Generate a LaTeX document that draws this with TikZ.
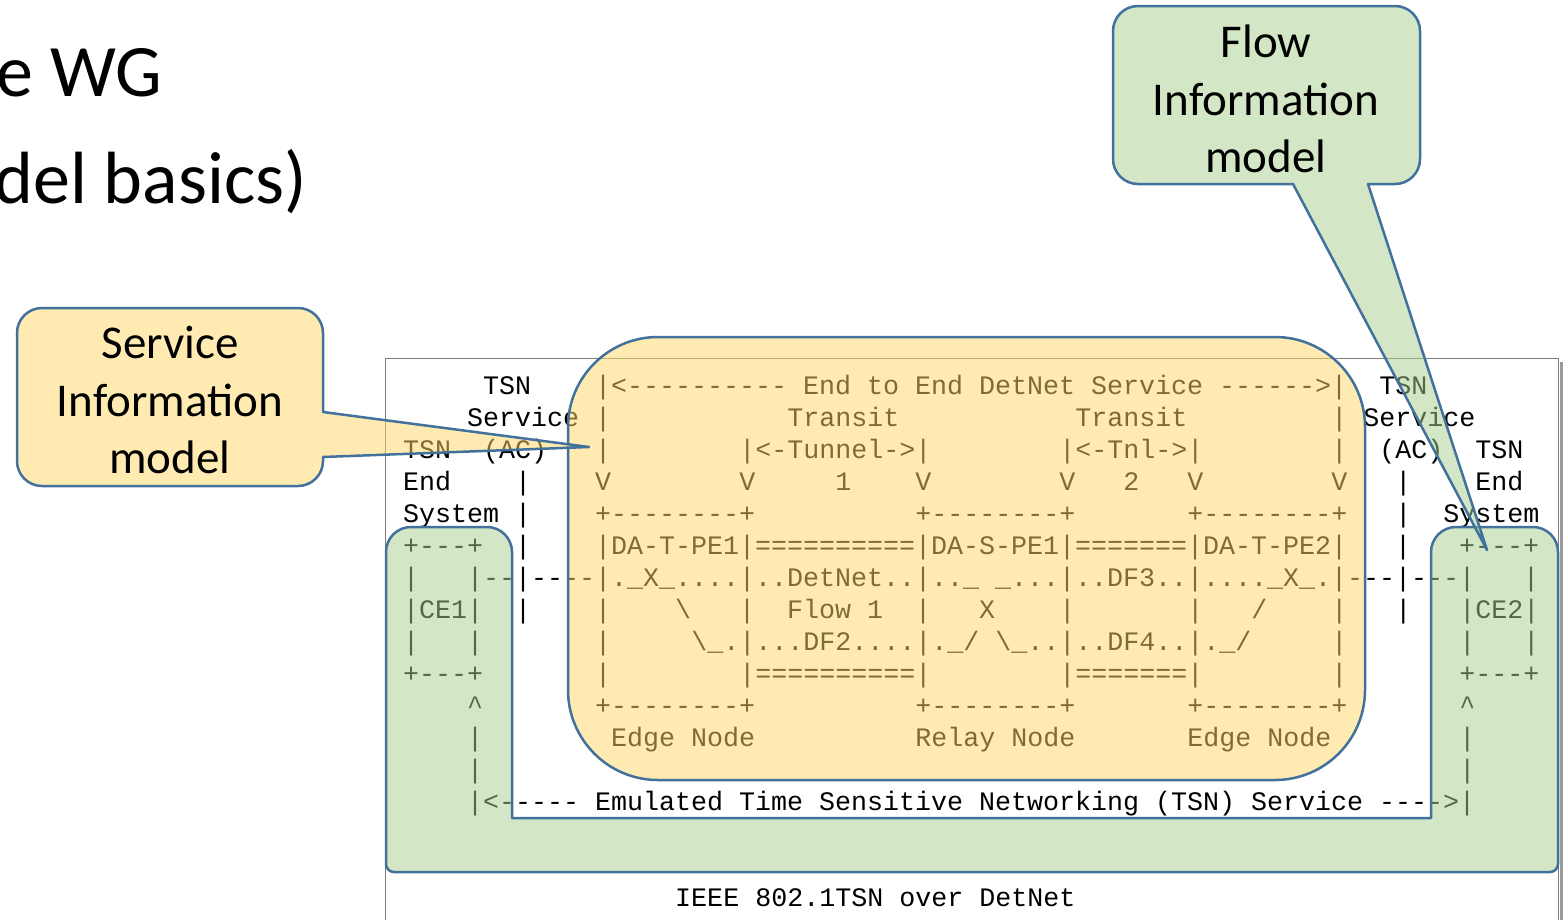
\documentclass[tikz,border=0pt]{standalone}
\usepackage{fontspec}
\setmainfont{Carlito}
\setmonofont{Liberation Mono}
\definecolor{bluel}{HTML}{41719C}
\definecolor{goldf}{HTML}{FFD966}
\definecolor{greenf}{HTML}{A9D18E}
\definecolor{boxc}{HTML}{7F7F7F}
\definecolor{shadc}{HTML}{9A9A9A}
\newlength\cw
\setlength\cw{16.0026pt}
\newcommand\sk[1]{\hspace*{#1\cw}}
\tikzset{
  outl/.style={draw=bluel, line width=2.5pt, line join=round},
  ylw/.style={outl, fill=goldf, fill opacity=0.5},
  grn/.style={outl, fill=greenf, fill opacity=0.5},
  asc/.style={anchor=base west, inner sep=0pt, font=\fontsize{26.667pt}{32pt}\selectfont\ttfamily\frenchspacing},
  cal/.style={anchor=base, inner sep=0pt, font=\fontsize{47pt}{57pt}\selectfont},
  ttl/.style={anchor=base east, inner sep=0pt, font=\fontsize{74pt}{88pt}\selectfont},
}
\begin{document}
\begin{tikzpicture}[x=1pt,y=-1pt]
\useasboundingbox (0,0) rectangle (1566,919);
\clip (0,0) rectangle (1566,919);
\fill[white] (0,0) rectangle (1566,919);
% title fragments
\node[ttl] (t1) at (162,96) {e WG};
\node[ttl] (t2) at (307,203) {del basics)};
% framed figure
\draw[boxc, line width=1pt] (385,358) rectangle (1558,940);
\draw[shadc, line width=3pt] (1561,362) -- (1561,940);
% ascii art
\node[asc] (r0) at (403,394) {\sk{5}TSN\sk{4}|<----------\sk{1}End\sk{1}to\sk{1}End\sk{1}DetNet\sk{1}Service\sk{1}------>|\sk{2}TSN};
\node[asc] (r1) at (403,426) {\sk{4}Service\sk{1}|\sk{11}Transit\sk{11}Transit\sk{9}|\sk{1}Service};
\node[asc] (r2) at (403,458) {TSN\sk{2}(AC)\sk{3}|\sk{8}|<-Tunnel->|\sk{8}|<-Tnl->|\sk{8}|\sk{2}(AC)\sk{2}TSN};
\node[asc] (r3) at (403,490) {End\sk{4}|\sk{4}V\sk{8}V\sk{5}1\sk{4}V\sk{8}V\sk{3}2\sk{3}V\sk{8}V\sk{3}|\sk{4}End};
\node[asc] (r4) at (403,522) {System\sk{1}|\sk{4}+--------+\sk{10}+--------+\sk{7}+--------+\sk{3}|\sk{2}System};
\node[asc] (r5) at (403,554) {+---+\sk{2}|\sk{4}|DA-T-PE1|==========|DA-S-PE1|=======|DA-T-PE2|\sk{3}|\sk{3}+---+};
\node[asc] (r6) at (403,586) {|\sk{3}|--|----|.\_X\_....|..DetNet..|..\_\sk{1}\_...|..DF3..|....\_X\_.|---|---|\sk{3}|};
\node[asc] (r7) at (403,618) {|CE1|\sk{2}|\sk{4}|\sk{4}\textbackslash\sk{3}|\sk{2}Flow\sk{1}1\sk{2}|\sk{3}X\sk{4}|\sk{7}|\sk{3}/\sk{4}|\sk{3}|\sk{3}|CE2|};
\node[asc] (r8) at (403,650) {|\sk{3}|\sk{7}|\sk{5}\textbackslash\_.|...DF2....|.\_/\sk{1}\textbackslash\_..|..DF4..|.\_/\sk{5}|\sk{7}|\sk{3}|};
\node[asc] (r9) at (403,682) {+---+\sk{7}|\sk{8}|==========|\sk{8}|=======|\sk{8}|\sk{7}+---+};
\node[asc] (r10) at (403,714) {\sk{4}\textasciicircum\sk{7}+--------+\sk{10}+--------+\sk{7}+--------+\sk{7}\textasciicircum};
\node[asc] (r11) at (403,746) {\sk{4}|\sk{8}Edge\sk{1}Node\sk{10}Relay\sk{1}Node\sk{7}Edge\sk{1}Node\sk{8}|};
\node[asc] (r12) at (403,778) {\sk{4}|\sk{61}|};
\node[asc] (r13) at (403,810) {\sk{4}|<-----\sk{1}Emulated\sk{1}Time\sk{1}Sensitive\sk{1}Networking\sk{1}(TSN)\sk{1}Service\sk{1}---->|};
\node[asc] (r16) at (403,906) {\sk{17}IEEE\sk{1}802.1TSN\sk{1}over\sk{1}DetNet};
% overlays
\draw[ylw, rounded corners=90pt] (568,337) rectangle (1365,780);
\draw[grn] (512,818) -- (1431,818) [rounded corners=25pt] -- (1431,527) -- (1558,527) [rounded corners=8pt] -- (1558,872) -- (386,872) [rounded corners=25pt] -- (386,527) -- (512,527) [sharp corners] -- cycle;
% callouts
\draw[ylw] (170,308) [rounded corners=25pt] -- (323,308) [sharp corners] -- (323,412) -- (589,447) -- (323,457) [rounded corners=25pt] -- (323,486) -- (17,486) -- (17,308) -- cycle;
\draw[grn] (1266,6) [rounded corners=25pt] -- (1420,6) -- (1420,184) [sharp corners] -- (1368,184) -- (1487,550) -- (1293,184) [rounded corners=25pt] -- (1113,184) -- (1113,6) -- cycle;
\node[cal] (s1) at (170,358) {Service};
\node[cal] (s2) at (170,416) {Information};
\node[cal] (s3) at (170,473) {model};
\node[cal] (f1) at (1266,57) {Flow};
\node[cal] (f2) at (1266,115) {Information};
\node[cal] (f3) at (1266,172) {model};
\end{tikzpicture}
\end{document}
